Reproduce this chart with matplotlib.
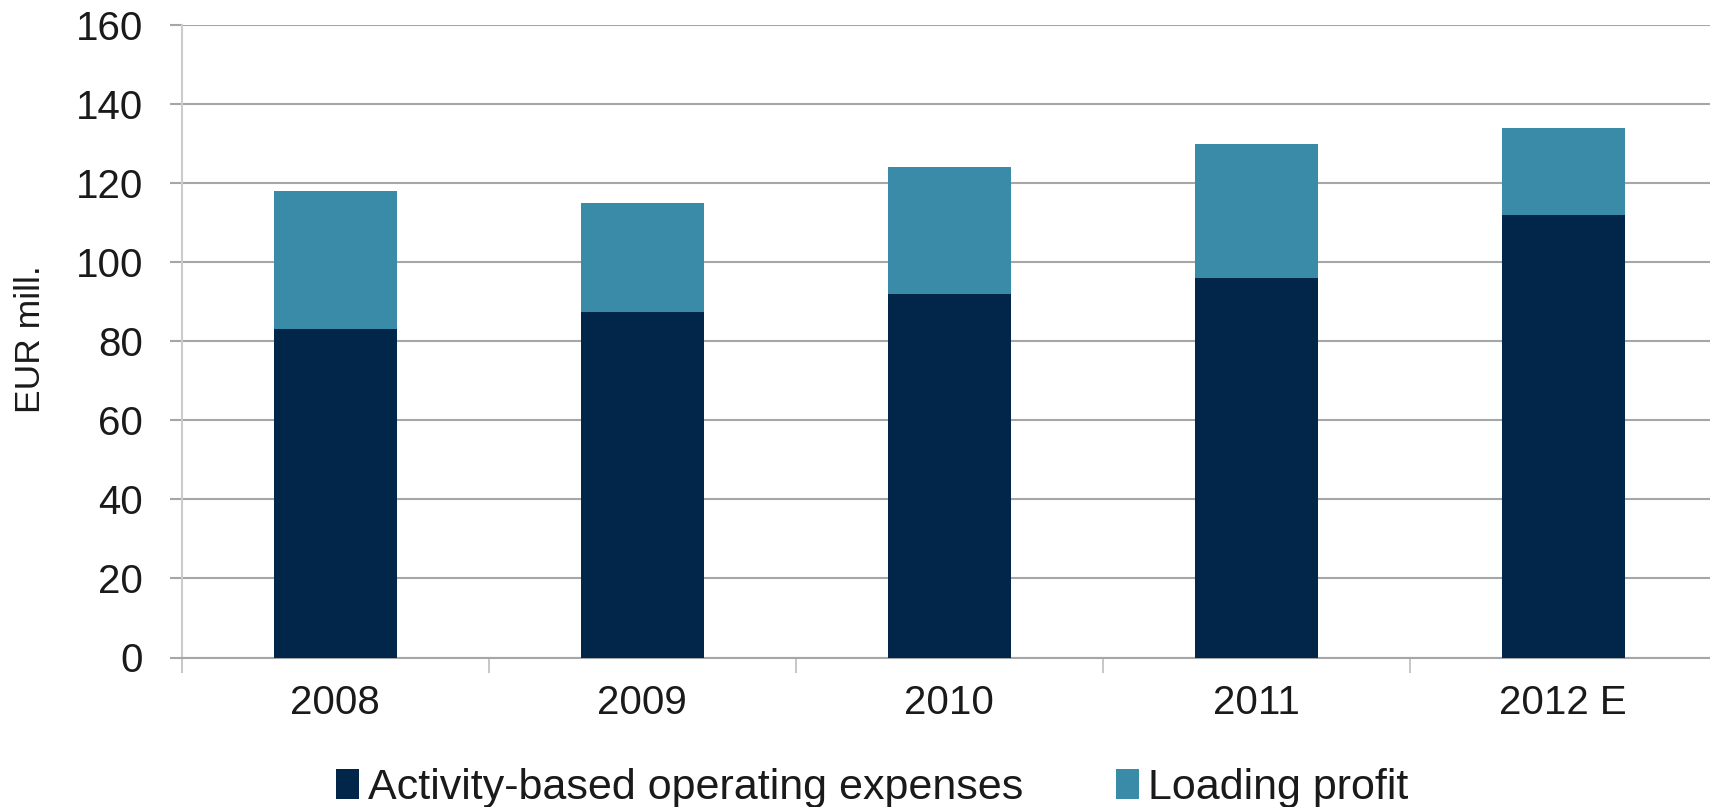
import matplotlib
matplotlib.use("Agg")
import matplotlib.pyplot as plt
import numpy as np
from matplotlib.patches import Patch

plt.rcParams['font.family'] = ['Liberation Sans', 'DejaVu Sans']

years = ["2008", "2009", "2010", "2011", "2012 E"]
operating_expenses = [83, 87.5, 92, 96, 112]
loading_profit = [35, 27.5, 32, 34, 22]

series_labels = ["Activity-based operating expenses", "Loading profit"]
colors = ["#02264A", "#3A8BA8"]
y_ticks = [0, 20, 40, 60, 80, 100, 120, 140, 160]

W, H = 1710, 807
fig = plt.figure(figsize=(W / 100, H / 100), dpi=100)

# plot area: left spine at x=182 px, zero line at y=657.5 px, 160 at y=25 px
left = 181.7 / W
bottom = (H - 657.5) / H
height = 632.5 / H
width = 5 * 307 / W
ax = fig.add_axes([left, bottom, width, height])

x = np.arange(len(years))
ax.bar(x, operating_expenses, width=0.4, color=colors[0], zorder=3)
ax.bar(x, loading_profit, width=0.4, bottom=operating_expenses,
       color=colors[1], zorder=3)

ax.set_xlim(-0.5, len(years) - 0.5)
ax.set_ylim(0, 160)
ax.set_yticks(y_ticks)
ax.set_yticklabels([str(v) for v in y_ticks])
ax.yaxis.grid(True, color="#A6A6A6", linewidth=1.5, zorder=0)
ax.set_axisbelow(True)

ax.set_xticks(x)
ax.set_xticklabels(years)
ax.set_xticks(np.arange(-0.5, len(years), 1.0), minor=True)
ax.tick_params(axis="x", which="major", length=0, pad=19, labelsize=29,
               labelcolor="#1A1A1A")
ax.tick_params(axis="x", which="minor", length=11, width=1.2,
               color="#BDBDBD", direction="out")
ax.tick_params(axis="y", length=8.6, width=1.5, color="#A6A6A6", pad=19,
               labelsize=29, labelcolor="#1A1A1A")

for side in ("top", "right"):
    ax.spines[side].set_visible(False)
ax.spines["left"].set_color("#CCCCCC")
ax.spines["left"].set_linewidth(1.5)
ax.spines["bottom"].set_color("#A6A6A6")
ax.spines["bottom"].set_linewidth(1.5)

fig.text(31 / W, (H - 339) / H, "EUR mill.", rotation=90, ha="center",
         va="center", fontsize=25.5, color="#1A1A1A")

handles = [Patch(facecolor=c, edgecolor="none") for c in colors]
fig.legend(handles, series_labels, loc="center", ncol=2,
           bbox_to_anchor=(872 / W, (H - 788) / H), frameon=False,
           fontsize=31, handlelength=0.55, handleheight=0.7,
           handletextpad=0.2, columnspacing=2.15, borderpad=0,
           labelcolor="#1A1A1A")

fig.savefig("out.png", dpi=100)
